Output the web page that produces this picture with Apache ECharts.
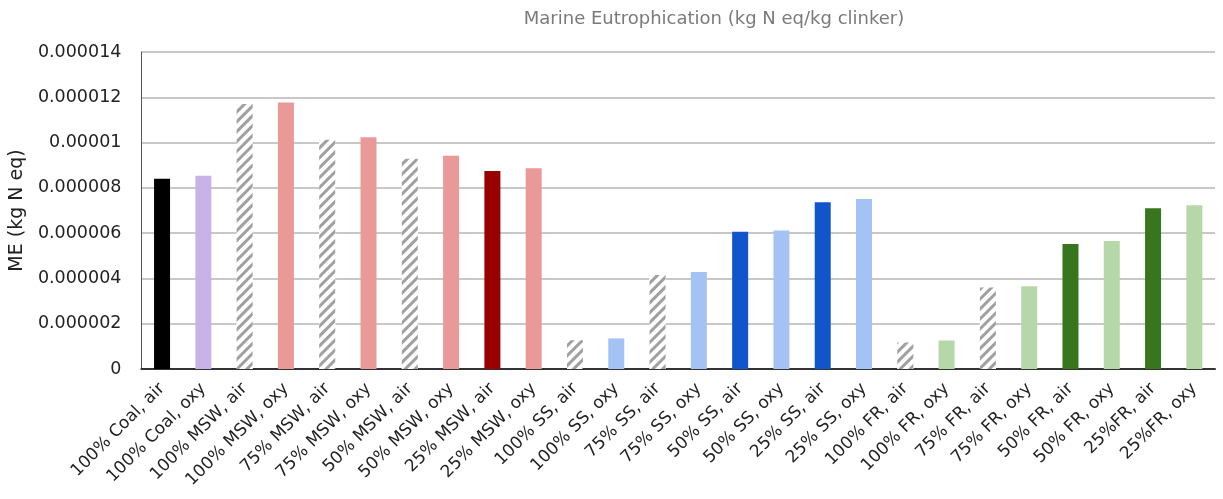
<!DOCTYPE html>
<html>
<head>
<meta charset="utf-8">
<script src="https://cdn.jsdelivr.net/npm/echarts@6/dist/echarts.min.js"></script>
<style>
  html, body { margin: 0; padding: 0; background: #fff; }
  #chart { width: 1223px; height: 499px; }
</style>
</head>
<body>
<div id="chart"></div>
<script>
// Fuel/oxidant scenarios along the x axis
const categories = [
  '100% Coal, air', '100% Coal, oxy',
  '100% MSW, air', '100% MSW, oxy', '75% MSW, air', '75% MSW, oxy',
  '50% MSW, air', '50% MSW, oxy', '25% MSW, air', '25% MSW, oxy',
  '100% SS, air', '100% SS, oxy', '75% SS, air', '75% SS, oxy',
  '50% SS, air', '50% SS, oxy', '25% SS, air', '25% SS, oxy',
  '100% FR, air', '100% FR, oxy', '75% FR, air', '75% FR, oxy',
  '50% FR, air', '50% FR, oxy', '25%FR, air', '25%FR, oxy'
];

// Marine eutrophication per scenario (kg N eq / kg clinker)
const meValues = [
  0.00000840, 0.00000854,
  0.00001170, 0.00001177, 0.00001012, 0.00001024,
  0.00000929, 0.00000942, 0.00000875, 0.00000887,
  0.00000127, 0.00000135, 0.00000415, 0.00000428,
  0.00000606, 0.00000612, 0.00000736, 0.00000751,
  0.00000117, 0.00000126, 0.00000360, 0.00000366,
  0.00000552, 0.00000565, 0.00000710, 0.00000723
];

// Y axis tick settings
const yMin = 0;
const yMax = 0.000014;
const yStep = 0.000002;

// Fill style keys per bar ('hatch' = grey diagonal stripes)
const fillKeys = [
  'black', 'lavender',
  'hatch', 'pink', 'hatch', 'pink', 'hatch', 'pink', 'darkred', 'pink',
  'hatch', 'lightblue', 'hatch', 'lightblue', 'blue', 'lightblue', 'blue', 'lightblue',
  'hatch', 'lightgreen', 'hatch', 'lightgreen', 'darkgreen', 'lightgreen', 'darkgreen', 'lightgreen'
];

const palette = {
  black: '#000000',
  lavender: '#c8b3e8',
  pink: '#ea9999',
  darkred: '#990000',
  lightblue: '#a4c2f4',
  blue: '#1155cc',
  lightgreen: '#b6d7a8',
  darkgreen: '#38761d'
};

const FONT = 'DejaVu Sans, Liberation Sans, Arial, sans-serif';

const hatchDecal = {
  symbol: 'rect',
  symbolSize: 1,
  color: '#a0a0a0',
  backgroundColor: '#ffffff',
  dashArrayX: [1, 0],
  dashArrayY: [2.8, 3.2],
  rotation: -Math.PI / 4
};

const barData = meValues.map((v, i) => {
  const key = fillKeys[i];
  if (key === 'hatch') {
    return { value: v, itemStyle: { color: '#ffffff', decal: hatchDecal } };
  }
  return { value: v, itemStyle: { color: palette[key] } };
});

function fmtTick(v) {
  if (v === 0) return '0';
  return v.toFixed(6).replace(/0+$/, '').replace(/\.$/, '');
}

const chart = echarts.init(document.getElementById('chart'), null, { renderer: 'canvas' });
chart.setOption({
  animation: false,
  backgroundColor: '#ffffff',
  aria: { enabled: true, decal: { show: false } },
  title: {
    text: 'Marine Eutrophication (kg N eq/kg clinker)',
    left: 709,
    textAlign: 'center',
    top: 5,
    textStyle: {
      color: '#7a7a7a',
      fontSize: 18,
      fontWeight: 'normal',
      fontFamily: FONT
    }
  },
  grid: { left: 139, right: 8, top: 52, bottom: 130, containLabel: false },
  xAxis: {
    type: 'category',
    data: categories,
    axisTick: { show: false },
    axisLine: { show: true, lineStyle: { color: '#333333', width: 2 } },
    axisLabel: {
      interval: 0,
      rotate: 45,
      margin: 17,
      color: '#222222',
      fontSize: 17,
      fontFamily: FONT
    }
  },
  yAxis: {
    type: 'value',
    min: yMin,
    max: yMax,
    interval: yStep,
    name: 'ME (kg N eq)',
    nameLocation: 'middle',
    nameGap: 111,
    nameRotate: 90,
    nameTextStyle: {
      color: '#222222',
      fontSize: 19,
      fontFamily: FONT
    },
    axisLine: { show: true, lineStyle: { color: '#555555', width: 1 } },
    axisTick: { show: false },
    splitLine: { lineStyle: { color: '#c8c8c8', width: 2 } },
    axisLabel: {
      formatter: fmtTick,
      margin: 20,
      color: '#222222',
      fontSize: 17.5,
      fontFamily: FONT
    }
  },
  series: [{
    type: 'bar',
    data: barData,
    barWidth: 16
  }]
});
</script>
</body>
</html>
